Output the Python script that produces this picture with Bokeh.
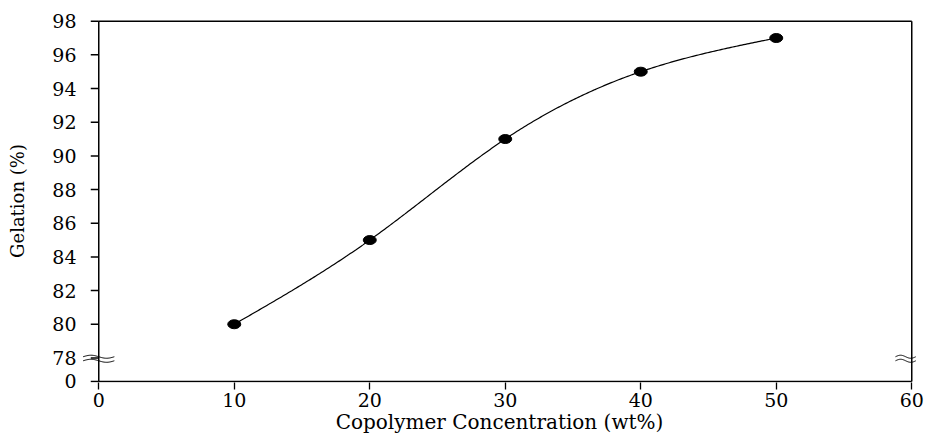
import numpy as np
from bokeh.plotting import figure
from bokeh.models import FixedTicker, Range1d, CustomJSTickFormatter
from bokeh.embed import file_html
from bokeh.resources import INLINE

# ---- data ----
conc = [10, 20, 30, 40, 50]
gelation = [80, 85, 91, 95, 97]
x_ticks = [0, 10, 20, 30, 40, 50, 60]
y_ticks = [0, 78, 80, 82, 84, 86, 88, 90, 92, 94, 96, 98]
x_label = "Copolymer Concentration (wt%)"
y_label = "Gelation (%)"

# axis break: value 0 is drawn just below 78
BREAK_POS = 76.6


def disp(v):
    return v if v >= 78 else BREAK_POS


def natural_spline(x, y, n=300):
    x = np.asarray(x, float)
    y = np.asarray(y, float)
    k = len(x)
    h = np.diff(x)
    A = np.zeros((k, k))
    b = np.zeros(k)
    A[0, 0] = 1
    A[-1, -1] = 1
    for i in range(1, k - 1):
        A[i, i - 1] = h[i - 1]
        A[i, i] = 2 * (h[i - 1] + h[i])
        A[i, i + 1] = h[i]
        b[i] = 6 * ((y[i + 1] - y[i]) / h[i] - (y[i] - y[i - 1]) / h[i - 1])
    M = np.linalg.solve(A, b)
    xs = np.linspace(x[0], x[-1], n)
    ys = np.empty_like(xs)
    for j, t in enumerate(xs):
        i = min(np.searchsorted(x, t, side="right") - 1, k - 2)
        a = x[i + 1] - t
        c = t - x[i]
        ys[j] = (M[i] * a ** 3 / (6 * h[i]) + M[i + 1] * c ** 3 / (6 * h[i])
                 + (y[i] / h[i] - M[i] * h[i] / 6) * a
                 + (y[i + 1] / h[i] - M[i + 1] * h[i] / 6) * c)
    return xs, ys


FONT = "DejaVu Serif"
X0, X1 = x_ticks[0], x_ticks[-1]
Y1 = y_ticks[-1]
W, H = 925, 436
BL, BR, BT, BB = 82, 9, 19, 54
XR = (X0 - 1.2, X1 + 0.35)
YR = (BREAK_POS - 0.06, Y1 + 0.1)
PX = (XR[1] - XR[0]) / (W - BL - BR)   # data units per pixel along x

# frame is slightly larger than the drawn box so the axis-break marks fit
p = figure(width=W, height=H, output_backend="svg", toolbar_location=None,
           x_range=Range1d(*XR), y_range=Range1d(*YR),
           min_border_left=BL, min_border_right=BR, min_border_top=BT,
           min_border_bottom=BB)
p.background_fill_color = "white"
p.border_fill_color = "white"
p.xgrid.visible = False
p.ygrid.visible = False
p.outline_line_color = None

for ax in (p.xaxis[0], p.yaxis[0]):
    ax.axis_line_color = None
    ax.major_tick_line_color = "black"
    ax.major_tick_line_width = 1.3
    ax.minor_tick_line_color = None
    ax.major_label_text_font = FONT
    ax.major_label_text_font_size = "19px"
    ax.major_label_text_color = "black"
    ax.axis_label_text_font = FONT
    ax.axis_label_text_font_style = "normal"
    ax.axis_label_text_color = "black"

p.xaxis.ticker = FixedTicker(ticks=x_ticks)
p.xaxis.major_tick_in = 0
p.xaxis.major_tick_out = 7
p.xaxis.major_label_standoff = 3
p.xaxis.axis_label = x_label
p.xaxis.axis_label_text_font_size = "20px"
p.xaxis.axis_label_standoff = 0

y_tick_pos = [disp(v) for v in y_ticks]
p.yaxis.ticker = FixedTicker(ticks=y_tick_pos)
p.yaxis.formatter = CustomJSTickFormatter(code="return tick < 77 ? '0' : tick.toFixed(0);")
p.yaxis.major_tick_in = 0
p.yaxis.major_tick_out = 0
p.yaxis.major_tick_line_color = None
p.yaxis.major_label_standoff = 6
p.yaxis.axis_label = y_label
p.yaxis.axis_label_text_font_size = "18px"
p.yaxis.axis_label_standoff = 21

# y tick marks: 8 px to the left of the x = 0 line
tick_xs = [[X0 - 8 * PX, X0] for _ in y_tick_pos]
tick_ys = [[v, v] for v in y_tick_pos]
p.multi_line(tick_xs, tick_ys, line_color="black", line_width=1.5)

# plot box
p.segment(x0=[X0, X0, X1, X0], y0=[BREAK_POS, Y1, BREAK_POS, BREAK_POS],
          x1=[X0, X1, X1, X1], y1=[Y1, Y1, Y1, BREAK_POS],
          line_color="black", line_width=1.5)

# smooth curve through the points
sx, sy = natural_spline(conc, gelation)
p.line(sx, sy, line_color="black", line_width=1.2)
p.ellipse(conc, gelation, width=13, height=9, width_units="screen",
          height_units="screen", fill_color="black", line_color="black")


# axis break marks (double wave) on left and right axes
def wave(x0, x1, yc, amp=0.09, n=40):
    t = np.linspace(0, 1, n)
    return x0 + (x1 - x0) * t, yc + amp * np.sin(2 * np.pi * t)


for (x0, x1) in [(X0 - 1.15, X0 + 1.15), (X1 - 1.2, X1 + 0.3)]:
    for yc in (78.07, 77.83):
        wx, wy = wave(x0, x1, yc)
        p.line(wx, wy, line_color="black", line_width=1)

open("out.html", "w").write(file_html(p, INLINE))
